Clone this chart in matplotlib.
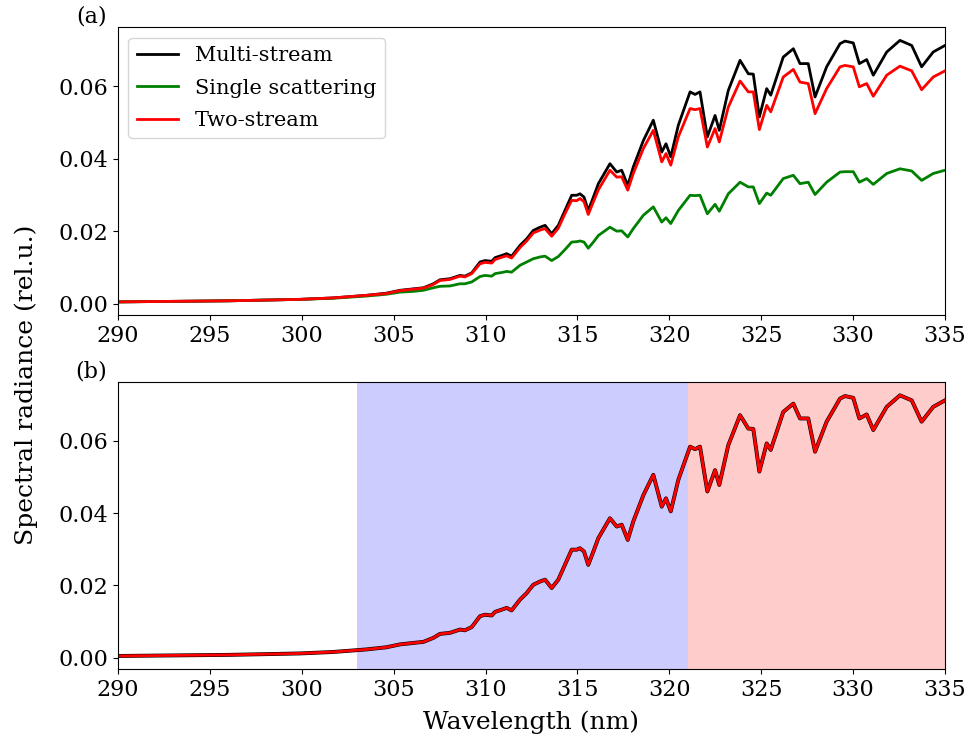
import matplotlib
matplotlib.use("Agg")
import matplotlib.pyplot as plt

plt.rcParams['font.family'] = ['DejaVu Serif']

wavelength = [290.0, 292.0, 294.0, 296.0, 298.0, 299.9, 301.7, 303.5, 304.6, 305.35,
              306.07, 306.62, 307.16, 307.52, 308.07, 308.61, 308.88, 309.25, 309.70, 309.97,
              310.34, 310.52, 310.88, 311.15, 311.42, 311.88, 312.24, 312.60, 312.97, 313.24,
              313.60, 313.96, 314.32, 314.69, 314.96, 315.14, 315.36, 315.59, 315.87, 316.14,
              316.77, 317.14, 317.41, 317.74, 318.04, 318.59, 319.13, 319.59, 319.82, 320.08,
              320.49, 321.13, 321.40, 321.67, 322.07, 322.49, 322.72, 323.21, 323.85, 324.30,
              324.57, 324.90, 325.30, 325.52, 326.20, 326.75, 327.11, 327.56, 327.93, 328.56,
              329.29, 329.56, 330.01, 330.34, 330.74, 331.10, 331.83, 332.55, 333.19, 333.73,
              334.36, 335.0]

multi_stream = [0.0005, 0.0006, 0.0007, 0.0008, 0.0010, 0.0012, 0.0016, 0.0023, 0.0029, 0.0037,
                0.0041, 0.0044, 0.0055, 0.0066, 0.0069, 0.0078, 0.0076, 0.0085, 0.0115, 0.0119,
                0.0117, 0.0127, 0.0133, 0.0138, 0.0131, 0.0161, 0.0179, 0.0202, 0.0211, 0.0216,
                0.0193, 0.0216, 0.0257, 0.0299, 0.0299, 0.0303, 0.0294, 0.0257, 0.0294, 0.0331,
                0.0386, 0.0363, 0.0368, 0.0326, 0.0377, 0.0450, 0.0506, 0.0418, 0.0441, 0.0405,
                0.0492, 0.0584, 0.0577, 0.0584, 0.0460, 0.0519, 0.0478, 0.0588, 0.0671, 0.0634,
                0.0633, 0.0515, 0.0593, 0.0575, 0.0680, 0.0703, 0.0662, 0.0662, 0.0570, 0.0653,
                0.0717, 0.0724, 0.0719, 0.0662, 0.0673, 0.0630, 0.0694, 0.0726, 0.0712, 0.0653,
                0.0694, 0.0712]

single_scattering = [0.0005, 0.0006, 0.0007, 0.0008, 0.0010, 0.0012, 0.0015, 0.0021, 0.0026, 0.0032,
                     0.0034, 0.0037, 0.0044, 0.0048, 0.0049, 0.0055, 0.0055, 0.0060, 0.0075, 0.0078,
                     0.0076, 0.0083, 0.0086, 0.0089, 0.0087, 0.0106, 0.0115, 0.0124, 0.0129, 0.0131,
                     0.0119, 0.0130, 0.0149, 0.0170, 0.0171, 0.0173, 0.0170, 0.0153, 0.0170, 0.0188,
                     0.0211, 0.0200, 0.0201, 0.0184, 0.0207, 0.0244, 0.0267, 0.0225, 0.0237, 0.0221,
                     0.0257, 0.0299, 0.0298, 0.0299, 0.0248, 0.0274, 0.0255, 0.0303, 0.0335, 0.0322,
                     0.0322, 0.0276, 0.0305, 0.0299, 0.0345, 0.0354, 0.0331, 0.0335, 0.0301, 0.0335,
                     0.0363, 0.0364, 0.0364, 0.0335, 0.0345, 0.0329, 0.0359, 0.0372, 0.0366, 0.0340,
                     0.0359, 0.0368]

two_stream = [0.0005, 0.0006, 0.0007, 0.0008, 0.0010, 0.0012, 0.0016, 0.0023, 0.0028, 0.0036,
              0.0040, 0.0043, 0.0053, 0.0064, 0.0067, 0.0076, 0.0074, 0.0083, 0.0110, 0.0114,
              0.0112, 0.0122, 0.0128, 0.0132, 0.0126, 0.0155, 0.0173, 0.0195, 0.0203, 0.0207,
              0.0186, 0.0208, 0.0248, 0.0285, 0.0284, 0.0290, 0.0281, 0.0246, 0.0281, 0.0314,
              0.0368, 0.0349, 0.0350, 0.0313, 0.0359, 0.0428, 0.0478, 0.0391, 0.0414, 0.0382,
              0.0460, 0.0538, 0.0535, 0.0538, 0.0432, 0.0483, 0.0446, 0.0542, 0.0614, 0.0584,
              0.0584, 0.0480, 0.0547, 0.0529, 0.0625, 0.0646, 0.0611, 0.0607, 0.0524, 0.0593,
              0.0653, 0.0657, 0.0653, 0.0598, 0.0607, 0.0572, 0.0630, 0.0655, 0.0642, 0.0590,
              0.0625, 0.0642]

# spectral windows highlighted in the lower panel
window_single = (303.0, 321.0)
window_two = (321.0, 335.0)

fig = plt.figure(figsize=(9.7, 7.38), dpi=100)
ax1 = fig.add_axes([0.1216, 0.5732, 0.8526, 0.3898])
ax2 = fig.add_axes([0.1216, 0.0935, 0.8526, 0.3885])

ax1.plot(wavelength, multi_stream, color='black', lw=2, label='Multi-stream')
ax1.plot(wavelength, single_scattering, color='green', lw=2, label='Single scattering')
ax1.plot(wavelength, two_stream, color='red', lw=2, label='Two-stream')
ax1.legend(loc='upper left', fontsize=15, labelspacing=0.65)

ax2.axvspan(*window_single, color='blue', alpha=0.2, lw=0)
ax2.axvspan(*window_two, color='red', alpha=0.2, lw=0)
ax2.plot(wavelength, multi_stream, color='black', lw=2.8)
ax2.plot(wavelength, multi_stream, color='red', lw=2)
ax2.set_xlabel('Wavelength (nm)', fontsize=18, labelpad=7)

for ax in (ax1, ax2):
    ax.set_xlim(290, 335)
    ax.set_xticks(range(290, 336, 5))
    ax.set_yticks([0.0, 0.02, 0.04, 0.06])
    ax.tick_params(labelsize=16)

ax1.text(-0.013, 1.0, '(a)', transform=ax1.transAxes, ha='right', va='bottom', fontsize=16)
ax2.text(-0.013, 1.0, '(b)', transform=ax2.transAxes, ha='right', va='bottom', fontsize=16)
fig.text(0.027, 0.479, 'Spectral radiance (rel.u.)', rotation=90, ha='center', va='center', fontsize=18)

fig.savefig('out.png', dpi=100)
